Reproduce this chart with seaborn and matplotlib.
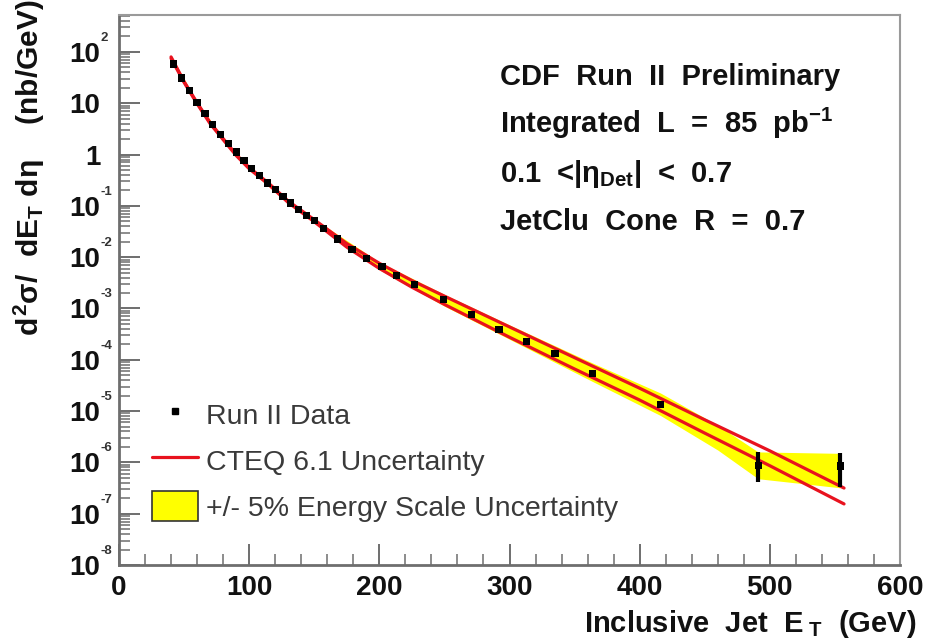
import numpy as np
import pandas as pd
import matplotlib
matplotlib.use("Agg")
import matplotlib.pyplot as plt
import seaborn as sns
from matplotlib.lines import Line2D
from matplotlib.patches import Patch
from matplotlib.ticker import FixedLocator, LogLocator, NullFormatter

# ---------------------------------
# data
# ---------------------------------
# Run II data points (GeV, nb/GeV)
et = [42, 48, 54, 60, 66, 72, 78, 84, 90, 96, 102, 108, 114, 120, 126, 132, 138,
      144, 150, 157, 168, 179, 190, 202, 213, 227, 249, 271, 292, 313, 335, 364,
      416, 491, 554]
xsec = [58, 31, 18, 10.5, 6.3, 3.9, 2.5, 1.65, 1.12, 0.77, 0.54, 0.385, 0.28,
        0.205, 0.152, 0.114, 0.086, 0.066, 0.051, 0.036, 0.0225, 0.0143, 0.0095,
        0.0065, 0.0044, 0.0029, 1.48e-3, 7.6e-4, 3.95e-4, 2.3e-4, 1.34e-4,
        5.4e-5, 1.36e-5, 8.6e-7, 8.5e-7]
# error bars only visible on the last two points (absolute low / high ends)
err_et = [491, 554]
err_low = [4.2e-7, 3.3e-7]
err_high = [1.6e-6, 1.5e-6]

# CTEQ 6.1 uncertainty, upper and lower curves
cteq_et = [40, 50, 60, 70, 80, 90, 100, 115, 130, 150, 175, 200, 225, 250, 300,
           350, 400, 450, 500, 557]
cteq_up = [80, 26.5, 10.2, 4.2, 2.05, 1.0, 0.56, 0.275, 0.124, 0.0537, 0.0184,
           7.59e-3, 3.51e-3, 1.74e-3, 4.37e-4, 1.10e-4, 2.79e-5, 6.76e-6,
           1.68e-6, 3.16e-7]
cteq_dn = [75, 25.5, 9.8, 4.0, 1.95, 0.96, 0.53, 0.26, 0.116, 0.049, 0.0157,
           6.03e-3, 2.60e-3, 1.20e-3, 2.75e-4, 6.61e-5, 1.64e-5, 3.72e-6,
           8.61e-7, 1.55e-7]

# +/- 5% energy scale band
band_et = [40, 60, 80, 100, 130, 150, 200, 250, 300, 364, 416, 460, 491, 554]
band_hi = [84, 10.6, 2.12, 0.58, 0.128, 0.0556, 8.04e-3, 1.88e-3, 4.79e-4,
           8.6e-5, 2.25e-5, 5.3e-6, 1.6e-6, 1.5e-6]
band_lo = [71, 9.4, 1.88, 0.51, 0.112, 0.0473, 5.69e-3, 1.11e-3, 2.51e-4,
           3.75e-5, 8.2e-6, 1.74e-6, 4.8e-7, 3.2e-7]

x_ticks = [0, 100, 200, 300, 400, 500, 600]
y_ticks = [1e-8, 1e-7, 1e-6, 1e-5, 1e-4, 1e-3, 1e-2, 1e-1, 1, 10, 100]
y_tick_base = ["10", "10", "10", "10", "10", "10", "10", "10", "1", "10", "10"]
y_tick_exp = ["-8", "-7", "-6", "-5", "-4", "-3", "-2", "-1", "", "", "2"]

df = pd.DataFrame({"et": et, "xsec": xsec})

# ---------------------------------
# style
# ---------------------------------
sns.set_theme(style="white")
plt.rcParams["font.family"] = ["Liberation Sans", "DejaVu Sans"]
plt.rcParams["mathtext.fontset"] = "custom"
plt.rcParams["mathtext.rm"] = "Liberation Sans:bold"
plt.rcParams["mathtext.it"] = "Liberation Sans:bold"
plt.rcParams["mathtext.bf"] = "Liberation Sans:bold"

RED = "#e8121e"
YELLOW = "#ffff00"
AXC = "#6e6e6e"
INK = "#111111"

fig = plt.figure(figsize=(9.33, 6.42), dpi=100)
ax = fig.add_axes([119 / 933, 1 - 565 / 642, (900 - 119) / 933, (565 - 15) / 642])

ax.fill_between(band_et, band_lo, band_hi, color=YELLOW, lw=0, zorder=1)
sns.lineplot(x=cteq_et, y=cteq_up, ax=ax, color=RED, lw=2.3, zorder=2)
sns.lineplot(x=cteq_et, y=cteq_dn, ax=ax, color=RED, lw=2.3, zorder=2)

err_mid = [xsec[et.index(e)] for e in err_et]
ax.errorbar(err_et, err_mid,
            yerr=[np.array(err_mid) - np.array(err_low),
                  np.array(err_high) - np.array(err_mid)],
            fmt="none", ecolor="black", elinewidth=3, capsize=0, zorder=3)
sns.scatterplot(data=df, x="et", y="xsec", ax=ax, marker="s", s=27,
                color="black", edgecolor="none", zorder=4)

ax.set_yscale("log")
ax.set_xlim(0, 600)
ax.set_ylim(1e-8, 10 ** 2.72)
ax.set_xlabel("")
ax.set_ylabel("")

# ROOT-ish axes: ticks inside, only left and bottom
ax.xaxis.set_major_locator(FixedLocator(x_ticks))
ax.xaxis.set_minor_locator(FixedLocator(list(range(0, 601, 20))))
ax.set_xticklabels([str(t) for t in x_ticks])
ax.yaxis.set_major_locator(FixedLocator(y_ticks))
ax.set_yticklabels(y_tick_base)
ax.yaxis.set_minor_locator(LogLocator(base=10, subs=np.arange(2, 10), numticks=30))
ax.yaxis.set_minor_formatter(NullFormatter())

ax.tick_params(axis="both", which="major", direction="in", length=15, width=1.4,
               color=AXC, labelsize=20, left=True, bottom=True, top=False,
               right=False)
ax.tick_params(axis="both", which="minor", direction="in", length=8, width=1.1,
               color=AXC, left=True, bottom=True, top=False, right=False)
ax.tick_params(axis="x", which="major", pad=7)
ax.tick_params(axis="y", which="major", pad=13.5)
for lab in ax.get_xticklabels() + ax.get_yticklabels():
    lab.set_fontweight("bold")
    lab.set_color(INK)

# small exponents next to the "10" labels
for yv, ex in zip(y_ticks, y_tick_exp):
    if ex:
        ax.annotate(ex, xy=(0, yv), xycoords=ax.get_yaxis_transform(),
                    xytext=(-19, 14), textcoords="offset pixels", ha="left",
                    va="center", fontsize=9.5, fontweight="bold", color="#333333")

for side in ["left", "bottom"]:
    ax.spines[side].set_color(AXC)
    ax.spines[side].set_linewidth(2)
for side in ["top", "right"]:
    ax.spines[side].set_color("#9a9a9a")
    ax.spines[side].set_linewidth(1.5)

# axis titles
fig.text(29 / 933, 1 - 168 / 642, r"$d^2\sigma/\ \ dE_T\ d\eta\ \ \ \ (nb/GeV)$",
         rotation=90, ha="center", va="center", fontsize=21.5, color=INK)
fig.text(917 / 933, 1 - 632 / 642, r"Inclusive  Jet  E$_{\ T}$  (GeV)",
         ha="right", va="baseline", fontsize=21, fontweight="bold", color=INK)

# info block
info = ["CDF  Run  II  Preliminary",
        r"Integrated  L  =  85  pb$^{-1}$",
        r"0.1  <|$\eta_{Det}$|  <  0.7",
        "JetClu  Cone  R  =  0.7"]
for i, line in enumerate(info):
    fig.text(500 / 933, 1 - (85 + 48.5 * i) / 642, line, ha="left", va="baseline",
             fontsize=21, fontweight="bold", color=INK)

# legend
handles = [Line2D([], [], ls="none", marker="s", markersize=5, color="black"),
           Line2D([], [], color=RED, lw=2.3),
           Patch(facecolor=YELLOW, edgecolor="#333333", lw=1.2)]
labels = ["Run II Data", "CTEQ 6.1 Uncertainty", "+/- 5% Energy Scale Uncertainty"]
leg = fig.legend(handles, labels, loc="upper left",
                 bbox_to_anchor=(152 / 933, 1 - 399 / 642),
                 bbox_transform=fig.transFigure, frameon=False, fontsize=20.5,
                 handlelength=1.6, handleheight=1.25, handletextpad=0.3,
                 labelspacing=0.54, borderpad=0, borderaxespad=0)
for t in leg.get_texts():
    t.set_color("#3a3a3a")

fig.savefig("out.png", dpi=100)
